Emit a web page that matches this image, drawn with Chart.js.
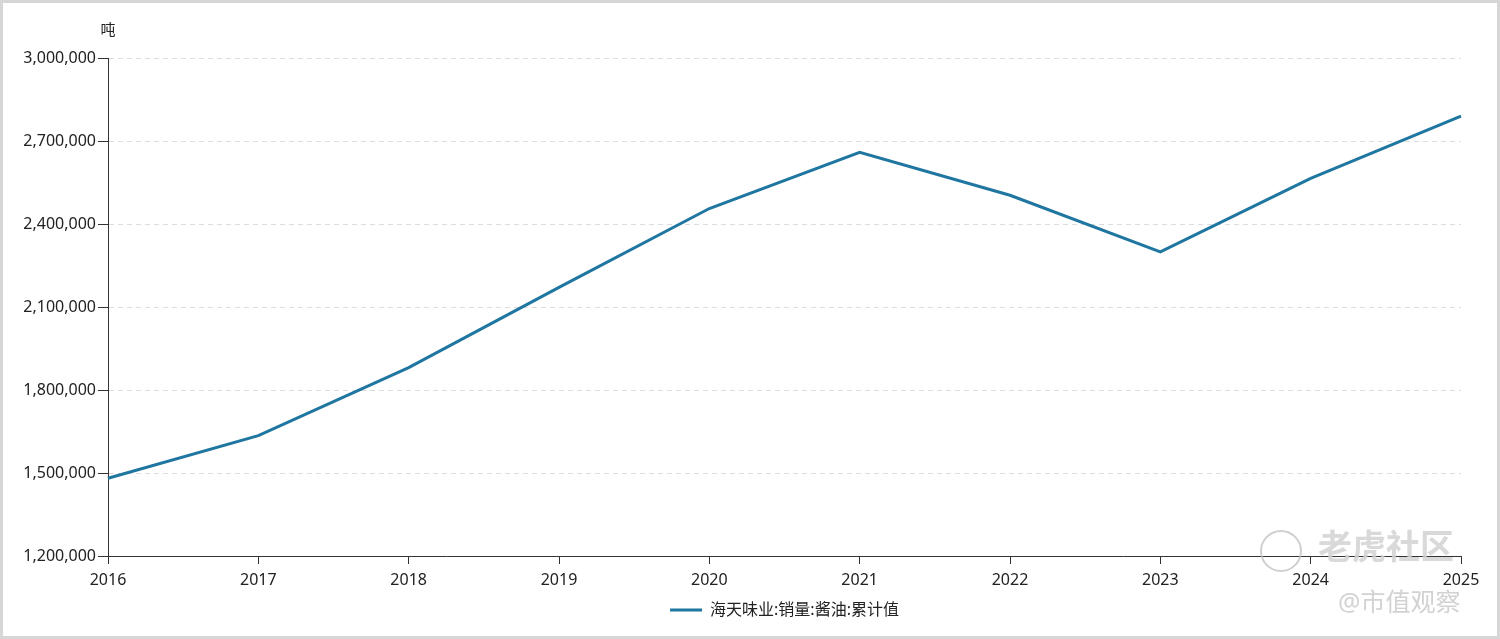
<!DOCTYPE html>
<html>
<head>
    <meta charset="utf-8" />
    <title>海天味业 酱油销量</title>
    <style>
        html, body { margin: 0; padding: 0; background: #fff; }
        #wrap { width: 1500px; height: 639px; position: relative; }
    </style>
</head>
<body>
    <div id="wrap"><canvas id="lineChart"></canvas></div>

    <script src="https://cdn.jsdelivr.net/npm/chart.js@4/dist/chart.umd.min.js"></script>
    <script>
        // data (tonnes)
        const years = ['2016', '2017', '2018', '2019', '2020', '2021', '2022', '2023', '2024', '2025'];
        const soySauceSales = [1481000, 1635000, 1881000, 2171000, 2456000, 2659000, 2504000, 2299000, 2565000, 2790000];
        const seriesName = '海天味业:销量:酱油:累计值';
        const unitLabel = '吨';
        const yMin = 1200000, yMax = 3000000, yStep = 300000;

        const FONT = "'Noto Sans', 'Noto Sans CJK SC', sans-serif";
        const lineColor = '#1f76a0';

        // center the legend under the plot area instead of the whole canvas
        const centerLegend = {
            id: 'centerLegend',
            afterLayout(chart) {
                const lg = chart.legend;
                if (!lg) return;
                const shift = (chart.chartArea.left + chart.chartArea.right) / 2 - (lg.left + lg.right) / 2;
                lg.left += shift;
                lg.right += shift;
            }
        };

        // unit, watermark and frame
        const extras = {
            id: 'extras',
            afterDraw(chart) {
                const ctx = chart.ctx;
                const yScale = chart.scales.y;
                ctx.save();
                ctx.fillStyle = '#222';
                ctx.font = '15px ' + FONT;
                ctx.textAlign = 'center';
                ctx.textBaseline = 'middle';
                ctx.fillText(unitLabel, yScale.right, 31);

                // watermark
                ctx.strokeStyle = 'rgba(195,195,195,0.8)';
                ctx.lineWidth = 2;
                ctx.beginPath();
                ctx.arc(1281, 551, 20, 0, Math.PI * 2);
                ctx.stroke();
                ctx.font = 'bold 34px ' + FONT;
                ctx.textAlign = 'left';
                ctx.fillStyle = 'rgba(210,210,210,0.85)';
                ctx.fillText('老虎社区', 1318, 549);
                ctx.font = '25px ' + FONT;
                ctx.fillStyle = 'rgba(205,205,205,0.9)';
                ctx.fillText('@市值观察', 1338, 604);

                // frame
                ctx.strokeStyle = '#d6d6d6';
                ctx.lineWidth = 3;
                ctx.strokeRect(1.5, 1.5, chart.width - 3, chart.height - 3);
                ctx.restore();
            }
        };

        const ctx = document.getElementById('lineChart');
        new Chart(ctx, {
            type: 'line',
            data: {
                labels: years,
                datasets: [{
                    label: seriesName,
                    data: soySauceSales,
                    borderColor: lineColor,
                    backgroundColor: lineColor,
                    borderWidth: 3,
                    pointRadius: 0,
                    tension: 0,
                    fill: false
                }]
            },
            options: {
                responsive: true,
                maintainAspectRatio: false,
                animation: false,
                layout: { padding: { top: 58, right: 39, bottom: 11, left: 0 } },
                plugins: {
                    tooltip: { enabled: false },
                    legend: {
                        position: 'bottom',
                        labels: {
                            usePointStyle: true,
                            pointStyle: 'line',
                            pointStyleWidth: 32,
                            padding: 6,
                            color: '#222',
                            font: { family: FONT, size: 16 }
                        }
                    }
                },
                scales: {
                    x: {
                        offset: false,
                        grid: {
                            drawOnChartArea: false,
                            drawTicks: true,
                            tickLength: 8,
                            tickColor: '#333'
                        },
                        border: { display: true, color: '#333', width: 1 },
                        ticks: {
                            color: '#222',
                            padding: 7,
                            maxRotation: 0,
                            autoSkip: false,
                            font: { family: FONT, size: 16 }
                        },
                        afterFit: (scale) => { scale.height = 40; }
                    },
                    y: {
                        min: yMin,
                        max: yMax,
                        grid: {
                            color: (c) => c.tick && c.tick.value === yMin ? 'rgba(0,0,0,0)' : '#dcdcdc',
                            tickColor: '#333',
                            tickLength: 10,
                            tickBorderDash: []
                        },
                        border: { display: true, color: '#333', width: 1, dash: [5, 4] },
                        ticks: {
                            stepSize: yStep,
                            color: '#222',
                            padding: 2,
                            font: { family: FONT, size: 16 },
                            callback: (v) => v.toLocaleString('en-US')
                        },
                        afterFit: (scale) => { scale.width = 108; }
                    }
                }
            },
            plugins: [centerLegend, extras]
        });
    </script>
</body>
</html>
